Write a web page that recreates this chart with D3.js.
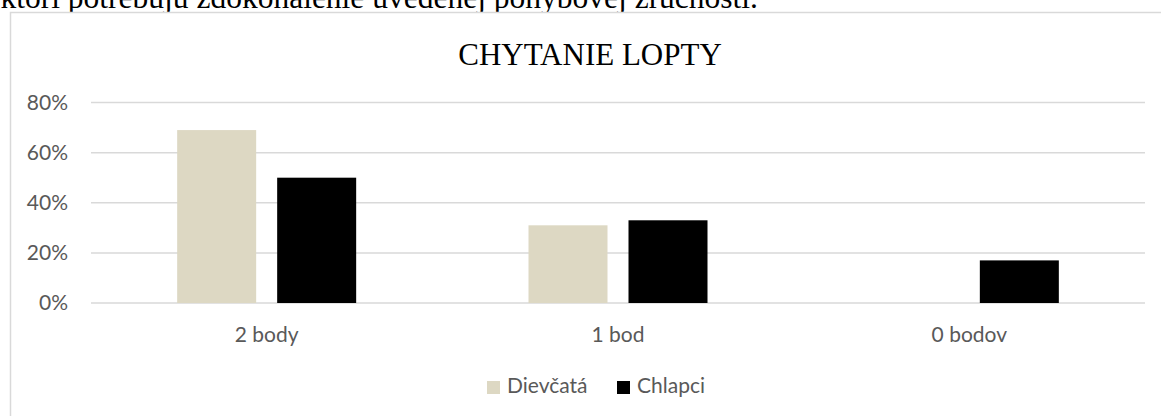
<!DOCTYPE html>
<html>
<head>
<meta charset="utf-8">
<script src="https://cdn.jsdelivr.net/npm/d3@7"></script>
<style>
  html, body { margin: 0; padding: 0; background: #fff; }
  svg { display: block; }
</style>
</head>
<body>
<svg id="chart" width="1161" height="416"></svg>
<script>
// Chart data
const categories = ["2 body", "1 bod", "0 bodov"];
const seriesNames = ["Dievčatá", "Chlapci"];
const girls = [0.69, 0.31, 0.00];
const boys = [0.50, 0.33, 0.17];
const yTicks = [0, 0.2, 0.4, 0.6, 0.8];
const seriesColors = ["#DDD8C3", "#000000"];

const svg = d3.select("#chart");

// Preceding sentence of the document, cut by the top edge
svg.append("text")
  .attr("x", 758).attr("y", 8)
  .attr("text-anchor", "end")
  .style("font-family", "'Liberation Serif', 'Times New Roman', serif")
  .style("font-size", "31.5px")
  .attr("fill", "#000")
  .text("ktorí potrebujú zdokonalenie uvedenej pohybovej zručnosti.");

// Chart frame
svg.append("rect")
  .attr("x", 10.5).attr("y", 12.5)
  .attr("width", 1180).attr("height", 430)
  .attr("fill", "#fff")
  .attr("stroke", "#d9d9d9").attr("stroke-width", 1.5);

// Title
svg.append("text")
  .attr("x", 590).attr("y", 65)
  .attr("text-anchor", "middle")
  .style("font-family", "'Liberation Serif', 'Times New Roman', serif")
  .style("font-size", "31px")
  .attr("fill", "#000")
  .text("CHYTANIE LOPTY");

// Scales
const plotLeft = 91, plotRight = 1145;
const y = d3.scaleLinear().domain([0, 0.8]).range([303, 102.5]);
const x0 = d3.scaleBand().domain(categories).range([plotLeft, plotRight]).padding(0);
const groupW = 179;
const x1 = d3.scaleBand().domain(seriesNames).range([0, groupW]).paddingInner(0.21).paddingOuter(0);

// Gridlines
svg.append("g")
  .selectAll("line")
  .data(yTicks)
  .join("line")
  .attr("x1", plotLeft).attr("x2", plotRight)
  .attr("y1", d => y(d)).attr("y2", d => y(d))
  .attr("stroke", "#d9d9d9").attr("stroke-width", 1.5);

// Y axis labels
const yAxis = d3.axisLeft(y).tickValues(yTicks).tickFormat(d3.format(".0%")).tickSize(0).tickPadding(0);
const gy = svg.append("g").attr("transform", "translate(68,0)").call(yAxis);
gy.select(".domain").remove();
gy.selectAll("text")
  .style("font-family", "Lato, 'Open Sans', sans-serif")
  .style("font-size", "21px")
  .attr("fill", "#595959");

// Bars
const rows = categories.map((c, i) => ({ cat: c, values: [girls[i], boys[i]] }));
const groups = svg.append("g")
  .selectAll("g")
  .data(rows)
  .join("g")
  .attr("transform", d => `translate(${x0(d.cat) + (x0.bandwidth() - groupW) / 2},0)`);

groups.selectAll("rect")
  .data(d => d.values.map((v, k) => ({ key: seriesNames[k], value: v, k })))
  .join("rect")
  .attr("x", d => x1(d.key))
  .attr("width", x1.bandwidth())
  .attr("y", d => y(d.value))
  .attr("height", d => y(0) - y(d.value))
  .attr("fill", d => seriesColors[d.k]);

// Category axis labels
const xAxis = d3.axisBottom(x0).tickSize(0).tickPadding(0);
const gx = svg.append("g").attr("transform", "translate(0,325)").call(xAxis);
gx.select(".domain").remove();
gx.selectAll("text")
  .attr("dy", "0.8em")
  .style("font-family", "Lato, 'Open Sans', sans-serif")
  .style("font-size", "21px")
  .attr("fill", "#595959");

// Legend
const legendItems = [
  { name: seriesNames[0], color: seriesColors[0], x: 487 },
  { name: seriesNames[1], color: seriesColors[1], x: 617 }
];
const lg = svg.append("g").selectAll("g").data(legendItems).join("g")
  .attr("transform", d => `translate(${d.x},381)`);
lg.append("rect").attr("width", 13).attr("height", 13).attr("fill", d => d.color);
lg.append("text")
  .attr("x", 20).attr("y", 12)
  .style("font-family", "Lato, 'Open Sans', sans-serif")
  .style("font-size", "21px")
  .attr("fill", "#595959")
  .text(d => d.name);
</script>
</body>
</html>
